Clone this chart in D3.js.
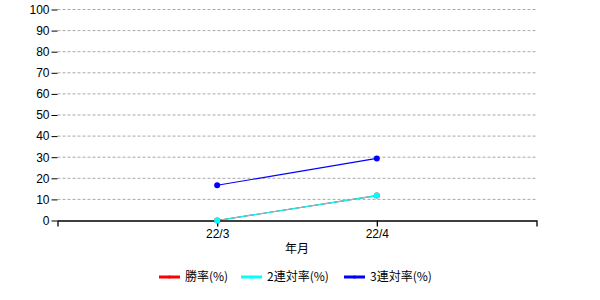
<!DOCTYPE html>
<html>
<head>
<meta charset="utf-8">
<script src="https://cdn.jsdelivr.net/npm/d3@7"></script>
<style>
  body { margin: 0; background: #fff; }
  svg { display: block; }
  .axis text { font-family: "Liberation Sans", Arial, sans-serif; font-size: 12px; fill: #000; }
  .axis line, .axis path { stroke: #000; }
  .grid line { stroke: #a9a9a9; stroke-dasharray: 3,2; }
  .label, .legend text { font-family: "Noto Sans CJK JP", sans-serif; font-size: 12px; fill: #000; }
</style>
</head>
<body>
<svg id="chart"></svg>
<script>
// data
const months = ['22/3', '22/4'];
const winRate = [0, 11.8];
const top2Rate = [0, 11.8];
const top3Rate = [16.7, 29.4];
const yTicks = [0, 10, 20, 30, 40, 50, 60, 70, 80, 90, 100];

const series = [
  {name: '勝率(%)', color: '#ff0000', values: winRate},
  {name: '2連対率(%)', color: '#00ffff', values: top2Rate},
  {name: '3連対率(%)', color: '#0000ff', values: top3Rate}
];

const width = 600, height = 300;
const margin = {top: 9.5, left: 57.5, right: 63.5, bottom: 79.5};
const innerW = width - margin.left - margin.right;
const innerH = height - margin.top - margin.bottom;

const svg = d3.select('#chart')
    .attr('width', width)
    .attr('height', height);

const chart = svg.append('g')
    .attr('transform', `translate(${margin.left},${margin.top})`);

const xScale = d3.scalePoint()
    .domain(months)
    .range([0, innerW])
    .padding(1);

const yScale = d3.scaleLinear()
    .domain([0, 100])
    .range([innerH, 0]);

// dashed grid lines
chart.append('g')
    .attr('class', 'grid')
    .selectAll('line')
    .data(yTicks.filter(d => d > 0))
    .join('line')
    .attr('x1', 0)
    .attr('x2', innerW)
    .attr('y1', d => yScale(d))
    .attr('y2', d => yScale(d));

// y axis, no domain line
const yAxisG = chart.append('g')
    .attr('class', 'axis y-axis')
    .call(d3.axisLeft(yScale).tickValues(yTicks).tickSize(6).tickPadding(2));
yAxisG.select('.domain').remove();

// series lines
const line = d3.line()
    .x((d, i) => xScale(months[i]))
    .y(d => yScale(d));

const marks = chart.append('g');
series.forEach(s => {
  marks.append('path')
      .datum(s.values)
      .attr('fill', 'none')
      .attr('stroke', s.color)
      .attr('stroke-width', 1.2)
      .attr('d', line);
});

// x axis
chart.append('g')
    .attr('class', 'axis x-axis')
    .attr('transform', `translate(0,${innerH})`)
    .call(d3.axisBottom(xScale).tickSize(6).tickSizeOuter(6).tickPadding(3))
    .selectAll('path, line')
    .attr('stroke-width', 1.3);

// markers on top
series.forEach(s => {
  chart.append('g')
      .selectAll('circle')
      .data(s.values)
      .join('circle')
      .attr('cx', (d, i) => xScale(months[i]))
      .attr('cy', d => yScale(d))
      .attr('r', 3)
      .attr('fill', s.color);
});

// axis title
chart.append('text')
    .attr('class', 'label')
    .attr('x', innerW / 2)
    .attr('y', innerH + 32)
    .attr('text-anchor', 'middle')
    .text('年月');

// legend
const legendX = [159, 241, 344];
const legend = svg.append('g').attr('class', 'legend');
series.forEach((s, i) => {
  const g = legend.append('g')
      .attr('transform', `translate(${legendX[i]},277)`);
  g.append('line')
      .attr('x1', 0).attr('x2', 21)
      .attr('stroke', s.color)
      .attr('stroke-width', 3);
  g.append('circle')
      .attr('cx', 10.5)
      .attr('r', 1.5)
      .attr('fill', s.color);
  g.append('text')
      .attr('x', 26)
      .attr('dy', '0.35em')
      .text(s.name);
});
</script>
</body>
</html>
